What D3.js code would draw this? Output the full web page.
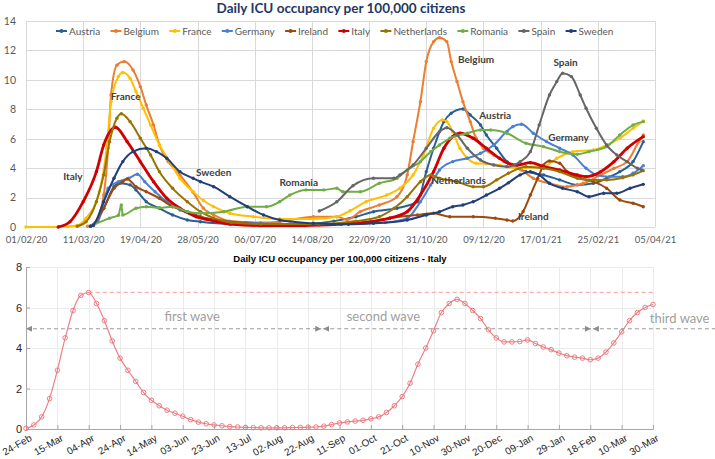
<!DOCTYPE html>
<html>
<head>
<meta charset="utf-8">
<title>Daily ICU occupancy</title>
<style>
  body, html { margin: 0; background: #fff; }
  .upper text { font-family: Lato, 'Open Sans', sans-serif; }
  .bot text { font-family: 'Liberation Sans', Arial, sans-serif; }
  .grid line { stroke: #d9d9d9; shape-rendering: crispEdges; }
  .grid path { display: none; }
  .grid2 line { stroke: #ebebeb; shape-rendering: crispEdges; }
  .grid2 path { display: none; }
</style>
</head>
<body>
<div id="chart"></div>
<script src="https://cdnjs.cloudflare.com/ajax/libs/d3/7.8.5/d3.min.js"></script>
<script>
// ---------- top chart data
var countries = ['Austria', 'Belgium', 'France', 'Germany', 'Ireland', 'Italy', 'Netherlands', 'Romania', 'Spain', 'Sweden']
var colors = ['#2a5f94', '#ed7d31', '#ffc000', '#4a80d4', '#9e480e', '#d00000', '#997300', '#70ad47', '#666666', '#203f78']
var topTicks = ['01/02/20', '11/03/20', '19/04/20', '28/05/20', '06/07/20', '14/08/20', '22/09/20', '31/10/20', '09/12/20', '17/01/21', '25/02/21', '05/04/21']
var topYTicks = [0, 2, 4, 6, 8, 10, 12, 14]

var austria = [['2020-03-16',0.05],['2020-03-18',0.14],['2020-03-25',1.27],['2020-04-01',2.74],['2020-04-05',2.97],['2020-04-12',2.86],['2020-04-16',2.52],['2020-04-23',1.72],['2020-05-02',1.27],['2020-05-11',0.82],['2020-05-21',0.48],['2020-05-30',0.36],['2020-06-20',0.2],['2020-07-30',0.15],['2020-08-29',0.4],['2020-09-13',0.7],['2020-09-25',1.04],['2020-10-11',1.27],['2020-10-25',1.72],['2020-10-31',3.76],['2020-11-05',5.35],['2020-11-12',7.16],['2020-11-17',7.73],['2020-11-25',8.02],['2020-11-30',7.61],['2020-12-07',6.93],['2020-12-11',6.25],['2020-12-18',5.35],['2020-12-25',4.44],['2021-01-07',3.76],['2021-01-19',3.54],['2021-01-30',3.2],['2021-02-11',2.86],['2021-02-22',2.97],['2021-03-03',3.31],['2021-03-12',3.76],['2021-03-21',4.44],['2021-03-28',5.8]]
var belgium = [['2020-03-14',0.05],['2020-03-19',0.3],['2020-03-25',2.17],['2020-03-28',5.35],['2020-03-30',8.97],['2020-04-03',11.0],['2020-04-08',11.24],['2020-04-14',10.67],['2020-04-19',9.54],['2020-04-23',8.29],['2020-04-28',6.93],['2020-05-02',5.57],['2020-05-08',4.44],['2020-05-16',3.54],['2020-05-25',2.35],['2020-06-01',1.27],['2020-06-08',0.82],['2020-06-19',0.4],['2020-07-10',0.3],['2020-07-23',0.36],['2020-08-15',0.7],['2020-08-31',0.7],['2020-09-07',0.5],['2020-09-16',1.04],['2020-09-29',1.5],['2020-10-11',2.06],['2020-10-18',3.54],['2020-10-22',5.8],['2020-10-27',8.52],['2020-10-31',11.24],['2020-11-05',12.6],['2020-11-09',12.87],['2020-11-14',12.6],['2020-11-17',11.24],['2020-11-21',9.88],['2020-11-25',8.52],['2020-11-30',7.16],['2020-12-04',6.03],['2020-12-09',5.35],['2020-12-16',4.89],['2020-12-23',4.44],['2021-01-04',3.87],['2021-01-12',3.31],['2021-01-23',2.97],['2021-02-04',2.74],['2021-02-15',2.97],['2021-02-27',3.54],['2021-03-08',3.99],['2021-03-17',4.44],['2021-03-25',5.8],['2021-03-28',6.25]]
var france = [['2020-02-01',0],['2020-02-23',0],['2020-03-07',0.1],['2020-03-13',0.6],['2020-03-22',2.4],['2020-03-27',5.35],['2020-03-30',8.52],['2020-04-04',10.22],['2020-04-07',10.5],['2020-04-12',10.1],['2020-04-16',9.2],['2020-04-21',8.07],['2020-04-26',6.93],['2020-05-02',5.57],['2020-05-09',4.44],['2020-05-16',3.3],['2020-05-25',2.4],['2020-06-01',1.8],['2020-06-08',1.38],['2020-06-19',0.93],['2020-07-05',0.7],['2020-07-23',0.54],['2020-08-15',0.54],['2020-08-31',0.7],['2020-09-09',1.1],['2020-09-20',1.72],['2020-10-04',2.17],['2020-10-13',2.63],['2020-10-22',3.54],['2020-10-29',4.89],['2020-11-05',6.71],['2020-11-11',7.27],['2020-11-14',7.16],['2020-11-18',6.48],['2020-11-23',5.35],['2020-11-28',4.67],['2020-12-04',4.33],['2020-12-11',4.3],['2020-12-20',4.2],['2021-01-01',4.0],['2021-01-19',4.1],['2021-01-28',4.67],['2021-02-08',5.12],['2021-02-22',5.23],['2021-03-03',5.57],['2021-03-12',6.03],['2021-03-21',6.71],['2021-03-28',7.2]]
var germany = [['2020-03-16',0.05],['2020-03-21',0.36],['2020-03-28',2.63],['2020-04-04',3.08],['2020-04-11',3.31],['2020-04-17',3.58],['2020-04-22',3.08],['2020-04-29',2.4],['2020-05-07',1.72],['2020-05-16',1.16],['2020-05-25',0.82],['2020-06-08',0.5],['2020-06-30',0.3],['2020-07-30',0.2],['2020-09-03',0.2],['2020-10-03',0.3],['2020-10-18',0.6],['2020-10-27',1.72],['2020-11-03',2.86],['2020-11-09',3.87],['2020-11-18',4.44],['2020-11-28',4.67],['2020-12-07',5.01],['2020-12-16',5.57],['2020-12-25',6.5],['2020-12-29',6.82],['2021-01-04',6.98],['2021-01-12',6.37],['2021-01-21',5.8],['2021-01-30',5.35],['2021-02-08',4.89],['2021-02-17',3.99],['2021-02-24',3.54],['2021-03-05',3.42],['2021-03-14',3.42],['2021-03-21',3.65],['2021-03-28',4.17]]
var ireland = [['2020-03-18',0.1],['2020-03-25',1.27],['2020-04-01',2.63],['2020-04-07',3.08],['2020-04-10',3.26],['2020-04-16',2.74],['2020-04-23',2.4],['2020-05-02',1.95],['2020-05-11',1.38],['2020-05-21',1.04],['2020-05-30',0.7],['2020-06-15',0.4],['2020-07-10',0.2],['2020-08-19',0.15],['2020-09-18',0.3],['2020-10-06',0.6],['2020-10-25',0.82],['2020-11-05',0.93],['2020-11-16',0.7],['2020-12-02',0.7],['2020-12-17',0.6],['2020-12-25',0.48],['2020-12-29',0.41],['2021-01-05',1.04],['2021-01-10',2.17],['2021-01-15',3.31],['2021-01-19',4.21],['2021-01-23',4.49],['2021-01-30',4.33],['2021-02-04',3.76],['2021-02-13',3.31],['2021-02-22',3.08],['2021-03-03',2.63],['2021-03-12',1.84],['2021-03-21',1.61],['2021-03-28',1.38]]
var italy = [['2020-02-23',0],['2020-03-02',0.36],['2020-03-11',1.72],['2020-03-20',3.76],['2020-03-25',5.57],['2020-04-02',6.78],['2020-04-10',5.8],['2020-04-19',4.44],['2020-04-28',3.08],['2020-05-07',1.95],['2020-05-16',1.27],['2020-05-27',0.7],['2020-06-08',0.42],['2020-06-19',0.2],['2020-07-10',0.1],['2020-08-09',0.1],['2020-09-03',0.2],['2020-09-23',0.35],['2020-10-06',0.6],['2020-10-18',1.04],['2020-10-27',2.17],['2020-11-05',3.76],['2020-11-12',5.35],['2020-11-18',6.14],['2020-11-23',6.37],['2020-12-02',6.03],['2020-12-11',5.35],['2020-12-20',4.67],['2020-12-26',4.33],['2021-01-01',4.21],['2021-01-10',4.37],['2021-01-19',4.1],['2021-01-30',3.87],['2021-02-11',3.53],['2021-02-17',3.42],['2021-02-27',3.76],['2021-03-08',4.44],['2021-03-17',5.35],['2021-03-28',6.14]]
var netherlands = [['2020-03-07',0.05],['2020-03-13',0.36],['2020-03-20',1.72],['2020-03-25',3.54],['2020-03-29',5.8],['2020-04-03',7.39],['2020-04-06',7.7],['2020-04-12',7.16],['2020-04-19',6.03],['2020-04-26',4.89],['2020-05-02',3.76],['2020-05-11',2.63],['2020-05-21',1.72],['2020-05-30',1.04],['2020-06-08',0.6],['2020-06-20',0.3],['2020-07-10',0.2],['2020-08-19',0.2],['2020-09-13',0.4],['2020-09-29',0.7],['2020-10-09',1.27],['2020-10-18',2.06],['2020-10-27',3.08],['2020-11-03',3.54],['2020-11-09',3.31],['2020-11-21',3.08],['2020-12-02',2.74],['2020-12-09',2.74],['2020-12-18',3.2],['2020-12-26',3.65],['2021-01-07',4.1],['2021-01-19',3.99],['2021-01-30',3.76],['2021-02-11',3.31],['2021-02-19',3.2],['2021-03-03',3.2],['2021-03-14',3.35],['2021-03-21',3.54],['2021-03-28',3.83]]
var romania = [['2020-03-18',0.14],['2020-03-29',0.6],['2020-04-04',0.8],['2020-04-06',1.5],['2020-04-07',0.82],['2020-04-16',1.27],['2020-04-23',1.38],['2020-05-02',1.31],['2020-05-11',1.38],['2020-05-21',1.04],['2020-05-30',0.93],['2020-06-15',1.04],['2020-07-01',1.38],['2020-07-14',1.38],['2020-07-23',1.72],['2020-07-30',2.17],['2020-08-10',2.52],['2020-08-22',2.52],['2020-08-31',2.63],['2020-09-04',2.4],['2020-09-16',2.4],['2020-09-29',2.97],['2020-10-11',3.31],['2020-10-18',3.87],['2020-10-27',4.44],['2020-11-03',5.12],['2020-11-09',5.57],['2020-11-16',6.03],['2020-11-28',6.37],['2020-12-07',6.59],['2020-12-14',6.59],['2020-12-25',6.37],['2021-01-07',5.69],['2021-01-19',5.46],['2021-01-30',5.12],['2021-02-11',4.94],['2021-02-19',5.12],['2021-03-03',5.46],['2021-03-12',6.25],['2021-03-21',6.93],['2021-03-28',7.16]]
var spain = [['2020-08-19',1.09],['2020-08-31',1.72],['2020-09-11',2.8],['2020-09-25',3.31],['2020-10-09',3.31],['2020-10-13',3.54],['2020-10-22',4.21],['2020-10-31',5.35],['2020-11-09',6.48],['2020-11-14',6.75],['2020-11-21',6.25],['2020-11-28',5.35],['2020-12-07',4.55],['2020-12-16',4.21],['2020-12-25',4.1],['2021-01-03',4.44],['2021-01-10',5.12],['2021-01-16',6.93],['2021-01-23',8.97],['2021-01-28',9.88],['2021-02-01',10.45],['2021-02-07',10.22],['2021-02-13',8.97],['2021-02-17',8.07],['2021-02-24',6.71],['2021-03-03',5.57],['2021-03-10',4.89],['2021-03-17',4.44],['2021-03-24',3.99],['2021-03-27',3.87]]
var sweden = [['2020-03-16',0.05],['2020-03-18',0.14],['2020-03-25',1.72],['2020-04-01',3.31],['2020-04-07',4.44],['2020-04-14',5.12],['2020-04-23',5.35],['2020-04-30',5.12],['2020-05-07',4.67],['2020-05-16',3.76],['2020-05-25',3.31],['2020-05-30',3.08],['2020-06-08',2.74],['2020-06-19',2.06],['2020-07-01',1.38],['2020-07-12',0.82],['2020-07-23',0.48],['2020-08-15',0.25],['2020-09-08',0.18],['2020-09-25',0.25],['2020-10-18',0.48],['2020-10-31',0.82],['2020-11-09',1.04],['2020-11-18',1.38],['2020-11-25',1.5],['2020-12-02',1.72],['2020-12-11',2.17],['2020-12-20',2.63],['2020-12-26',3.0],['2021-01-03',3.54],['2021-01-10',3.76],['2021-01-16',3.54],['2021-01-23',2.97],['2021-02-01',2.63],['2021-02-11',2.4],['2021-02-19',2.06],['2021-03-01',2.29],['2021-03-10',2.29],['2021-03-19',2.63],['2021-03-28',2.9]]
var series = [austria, belgium, france, germany, ireland, italy, netherlands, romania, spain, sweden]

// annotations on the top chart
var annotNames = ['Italy', 'France', 'Sweden', 'Romania', 'Belgium', 'Spain', 'Austria', 'Germany', 'Netherlands', 'Ireland']
var annotDates = ['2020-03-04', '2020-04-09', '2020-06-08', '2020-08-05', '2020-12-04', '2021-02-03', '2020-12-17', '2021-02-05', '2020-11-22', '2021-01-12']
var annotValues = [3.4, 8.9, 3.67, 3.0, 11.35, 11.15, 7.55, 6.05, 3.13, 0.68]

// ---------- bottom chart data (Italy, every 5 days from 24 Feb 2020)
var italyStart = '2020-02-24'
var italyStep = 5
var italyValues = [0.03, 0.2, 0.6, 1.5, 2.9, 4.5, 5.85, 6.6, 6.74, 6.2, 5.35, 4.35, 3.5, 2.9, 2.35, 1.8, 1.42, 1.15, 0.93, 0.78,
  0.63, 0.46, 0.34, 0.26, 0.2, 0.16, 0.12, 0.1, 0.08, 0.07, 0.06, 0.06, 0.06, 0.06, 0.07, 0.08, 0.09, 0.1, 0.14, 0.22,
  0.3, 0.35, 0.39, 0.43, 0.5, 0.6, 0.82, 1.15, 1.6, 2.26, 3.2, 4.0, 4.85, 5.75, 6.2, 6.4, 6.2, 5.85, 5.45, 4.9,
  4.5, 4.3, 4.3, 4.32, 4.4, 4.22, 4.05, 3.92, 3.75, 3.62, 3.55, 3.5, 3.42, 3.5, 3.8, 4.25, 4.8, 5.35, 5.75, 6.0, 6.15]
var botTicks = ['2020-02-24', '2020-03-15', '2020-04-04', '2020-04-24', '2020-05-14', '2020-06-03', '2020-06-23', '2020-07-13', '2020-08-02', '2020-08-22', '2020-09-11',
  '2020-10-01', '2020-10-21', '2020-11-10', '2020-11-30', '2020-12-20', '2021-01-09', '2021-01-29', '2021-02-18', '2021-03-10', '2021-03-30']
var botYTicks = [0, 2, 4, 6, 8]
var waveStarts = ['2020-08-31', '2021-02-19']
var waveNames = ['first wave', 'second wave', 'third wave']
var waveLabelDates = ['2020-06-09', '2020-10-09', '2021-04-16']
var waveLabelValues = [5.35, 5.35, 5.25]
var peakDate = '2020-04-04', peakValue = 6.75, arrowValue = 4.95

var W = 715, H = 459
var parseIso = d3.timeParse('%Y-%m-%d'), parseTop = d3.timeParse('%d/%m/%y')
var svg = d3.select('#chart').append('svg').attr('width', W).attr('height', H)

// ================= top chart
var upper = svg.append('g').attr('class', 'upper')
var xTop = d3.scaleTime().domain([parseTop(topTicks[0]), parseTop(topTicks[topTicks.length - 1])]).range([26, 655])
var yTop = d3.scaleLinear().domain([0, 14]).range([227, 21])

upper.append('g').attr('class', 'grid').attr('transform', 'translate(26,0)')
  .call(d3.axisLeft(yTop).tickValues(topYTicks).tickSize(-(655 - 26)).tickPadding(10))
  .call(function(g){ g.selectAll('text').attr('fill', '#595959').style('font-size', '10.5px') })
upper.append('g').attr('class', 'grid').attr('transform', 'translate(0,227)')
  .call(d3.axisBottom(xTop).tickValues(topTicks.map(parseTop)).tickSize(-(227 - 21)).tickPadding(9)
    .tickFormat(d3.timeFormat('%d/%m/%y')))
  .call(function(g){ g.selectAll('text').attr('fill', '#595959').style('font-size', '9.5px') })

upper.append('text').attr('x', 341).attr('y', 13).attr('text-anchor', 'middle')
  .attr('fill', '#1f3864').style('font-size', '13.5px').style('font-weight', 'bold')
  .text('Daily ICU occupancy per 100,000 citizens')

var line = d3.line().x(function(d){ return xTop(parseIso(d[0])) }).y(function(d){ return yTop(d[1]) })
  .curve(d3.curveMonotoneX)
series.forEach(function(data, i){
  var g = upper.append('g')
  g.append('path').datum(data).attr('d', line).attr('fill', 'none')
    .attr('stroke', colors[i]).attr('stroke-width', countries[i] == 'Italy' ? 2.8 : 2)
  g.selectAll('circle').data(data).join('circle')
    .attr('cx', function(d){ return xTop(parseIso(d[0])) })
    .attr('cy', function(d){ return yTop(d[1]) })
    .attr('r', 1.7).attr('fill', colors[i])
})

// legend
var cx = 56
countries.forEach(function(name, i){
  var item = upper.append('g').attr('transform', 'translate(' + cx + ',31)')
  item.append('line').attr('x1', 0).attr('x2', 11).attr('stroke', colors[i]).attr('stroke-width', 2)
  item.append('circle').attr('cx', 5.5).attr('r', 2).attr('fill', colors[i])
  var t = item.append('text').attr('x', 13).attr('dy', '0.35em').attr('fill', '#595959')
    .style('font-size', '10px').text(name)
  cx += 13 + t.node().getComputedTextLength() + 10.3
})

upper.selectAll('text.annot').data(annotNames).join('text').attr('class', 'annot')
  .attr('x', function(d, i){ return xTop(parseIso(annotDates[i])) })
  .attr('y', function(d, i){ return yTop(annotValues[i]) })
  .attr('dy', '0.35em').attr('text-anchor', 'middle').attr('fill', '#404040')
  .style('font-size', '10px').style('font-weight', 'bold').text(function(d){ return d })

// ================= bottom chart
var bot = svg.append('g').attr('class', 'bot')
var xBot = d3.scaleTime().domain([parseIso(botTicks[0]), parseIso(botTicks[botTicks.length - 1])]).range([26, 653])
var yBot = d3.scaleLinear().domain([0, 8]).range([429, 267])

bot.append('g').attr('class', 'grid2').attr('transform', 'translate(26,0)')
  .call(d3.axisLeft(yBot).tickValues(botYTicks).tickSize(-(653 - 26)).tickFormat(''))
bot.append('g').attr('class', 'grid2').attr('transform', 'translate(0,429)')
  .call(d3.axisBottom(xBot).tickValues(botTicks.map(parseIso)).tickSize(-(429 - 267)).tickFormat(''))

var yAx = bot.append('g').attr('transform', 'translate(26,0)')
  .call(d3.axisLeft(yBot).tickValues(botYTicks).tickSize(-4).tickPadding(4))
var xAx = bot.append('g').attr('transform', 'translate(0,429)')
  .call(d3.axisBottom(xBot).tickValues(botTicks.map(parseIso)).tickSize(-4).tickFormat(d3.timeFormat('%d-%b')))
;[yAx, xAx].forEach(function(a){
  a.select('.domain').attr('stroke', '#a6a6a6')
  a.selectAll('.tick line').attr('stroke', '#a6a6a6')
  a.selectAll('text').attr('fill', '#262626').style('font-size', '11px')
})
xAx.selectAll('text').attr('y', 0).attr('dy', null).attr('text-anchor', 'end').style('font-size', '10px')
  .attr('transform', 'translate(6,11) rotate(-30)')

bot.append('text').attr('x', 340).attr('y', 262).attr('text-anchor', 'middle')
  .style('font-size', '9.5px').style('font-weight', 'bold').attr('fill', '#000')
  .text('Daily ICU occupancy per 100,000 citizens - Italy')

// peak level
bot.append('line').attr('x1', xBot(parseIso(peakDate))).attr('x2', 653)
  .attr('y1', yBot(peakValue)).attr('y2', yBot(peakValue))
  .attr('stroke', '#ff9a9a').attr('stroke-dasharray', '4,3')

// italy series
var italyData = italyValues.map(function(v, i){
  return { date: d3.timeDay.offset(parseIso(italyStart), i * italyStep), value: v }
})
bot.append('path').datum(italyData).attr('fill', 'none').attr('stroke', '#ef8088').attr('stroke-width', 1.2)
  .attr('d', d3.line().x(function(d){ return xBot(d.date) }).y(function(d){ return yBot(d.value) }).curve(d3.curveMonotoneX))
bot.selectAll('circle.it').data(italyData).join('circle').attr('class', 'it')
  .attr('cx', function(d){ return xBot(d.date) }).attr('cy', function(d){ return yBot(d.value) })
  .attr('r', 2.3).attr('fill', 'none').attr('stroke', '#e8737b').attr('stroke-width', 0.9)

// wave arrows
var defs = svg.append('defs')
defs.append('marker').attr('id', 'arr').attr('viewBox', '0 0 8 8').attr('refX', 8).attr('refY', 4)
  .attr('markerWidth', 6).attr('markerHeight', 6).attr('markerUnits', 'userSpaceOnUse')
  .attr('orient', 'auto-start-reverse')
  .append('path').attr('d', 'M0,0L8,4L0,8z').attr('fill', '#8c8c8c')
var f = defs.append('filter').attr('id', 'shadow').attr('x', '-2').attr('width', '5')
f.append('feDropShadow').attr('dx', 2).attr('dy', 0).attr('stdDeviation', 1.5)
  .attr('flood-color', '#000').attr('flood-opacity', 0.3)

var wx = waveStarts.map(function(d){ return xBot(parseIso(d)) })
var segs = [[26, wx[0] - 1, true], [wx[0] + 1, wx[1] - 1, true], [wx[1] + 1, W, false]]
segs.forEach(function(s){
  var l = bot.append('line').attr('x1', s[0]).attr('x2', s[1])
    .attr('y1', yBot(arrowValue)).attr('y2', yBot(arrowValue))
    .attr('stroke', '#9a9a9a').attr('stroke-width', 1.2).attr('stroke-dasharray', '4,3')
    .attr('marker-start', 'url(#arr)')
  if(s[2]) l.attr('marker-end', 'url(#arr)')
})
bot.selectAll('line.wave').data(wx).join('line').attr('class', 'wave')
  .attr('x1', function(d){ return d }).attr('x2', function(d){ return d })
  .attr('y1', yBot(8)).attr('y2', yBot(0) + 3)
  .attr('stroke', '#8c8c8c').attr('stroke-width', 3).attr('stroke-dasharray', '8,5')
  .attr('filter', 'url(#shadow)')

bot.selectAll('text.wl').data(waveNames).join('text').attr('class', 'wl')
  .attr('x', function(d, i){ return xBot(parseIso(waveLabelDates[i])) })
  .attr('y', function(d, i){ return yBot(waveLabelValues[i]) })
  .attr('text-anchor', 'middle').attr('fill', '#a0a0a0')
  .style('font-family', 'Lato, sans-serif').style('font-size', '13px')
  .text(function(d){ return d })
</script>
</body>
</html>
